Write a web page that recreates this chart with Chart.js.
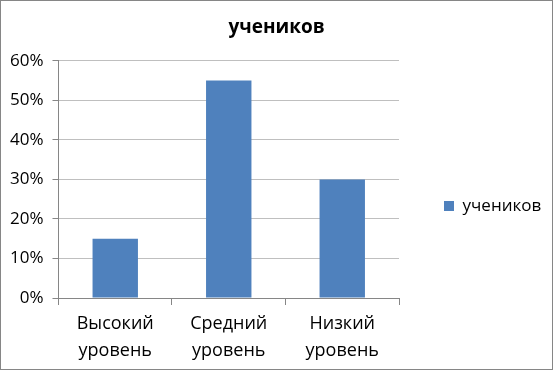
<!DOCTYPE html>
<html>
<head>
<meta charset="utf-8">
<script src="https://cdn.jsdelivr.net/npm/chart.js@4/dist/chart.umd.min.js"></script>
<style>
  html, body { margin: 0; padding: 0; background: #fff; }
  #wrap {
    position: absolute; left: 0; top: 0;
    width: 551px; height: 368px;
    border: 1px solid #868686;
    background: #fff;
  }
</style>
</head>
<body>
<div id="wrap"><canvas id="chart" width="551" height="368"></canvas></div>
<script>
// данные
const categories = [["Высокий", "уровень"], ["Средний", "уровень"], ["Низкий", "уровень"]];
const seriesName = "учеников";
const values = [0.15, 0.55, 0.30];
const yTicks = [0, 0.1, 0.2, 0.3, 0.4, 0.5, 0.6];

const font = "'Open Sans', 'Noto Sans', sans-serif";
Chart.defaults.font.family = font;
Chart.defaults.color = "#000";

// фиксированная ширина легенды справа
const legendWidth = {
  id: "legendWidth",
  afterInit(chart) {
    const lg = chart.legend;
    const fit = lg.fit.bind(lg);
    lg.fit = function () { fit(); this.width = 153; };
  }
};

const chart = new Chart(document.getElementById("chart"), {
  type: "bar",
  data: {
    labels: categories,
    datasets: [{
      label: seriesName,
      data: values,
      backgroundColor: "#4F81BD",
      borderWidth: 0,
      categoryPercentage: 1,
      barPercentage: 0.4
    }]
  },
  options: {
    responsive: false,
    animation: false,
    layout: { padding: { left: 0, right: 0, top: 6, bottom: 0 } },
    plugins: {
      title: {
        display: true,
        text: seriesName,
        font: { size: 19, weight: "bold" },
        padding: { top: 9, bottom: 22 }
      },
      legend: {
        position: "right",
        title: { display: true, text: " ", font: { size: 10 }, padding: 12 },
        labels: {
          boxWidth: 10,
          boxHeight: 10,
          padding: 45,
          font: { size: 17 }
        }
      },
      tooltip: { enabled: false }
    },
    scales: {
      x: {
        grid: {
          offset: true,
          drawOnChartArea: false,
          color: "#868686",
          tickLength: 7
        },
        border: { color: "#868686" },
        ticks: { font: { size: 18, lineHeight: 1.5 }, maxRotation: 0, padding: 5 }
      },
      y: {
        min: yTicks[0],
        max: yTicks[yTicks.length - 1],
        afterBuildTicks: axis => { axis.ticks = yTicks.map(v => ({ value: v })); },
        grid: { color: "#BFBFBF", tickColor: "#868686", tickLength: 6 },
        border: { color: "#868686" },
        ticks: {
          font: { size: 17 },
          padding: 9,
          callback: v => Math.round(v * 100) + "%"
        }
      }
    }
  },
  plugins: [legendWidth]
});
</script>
</body>
</html>
